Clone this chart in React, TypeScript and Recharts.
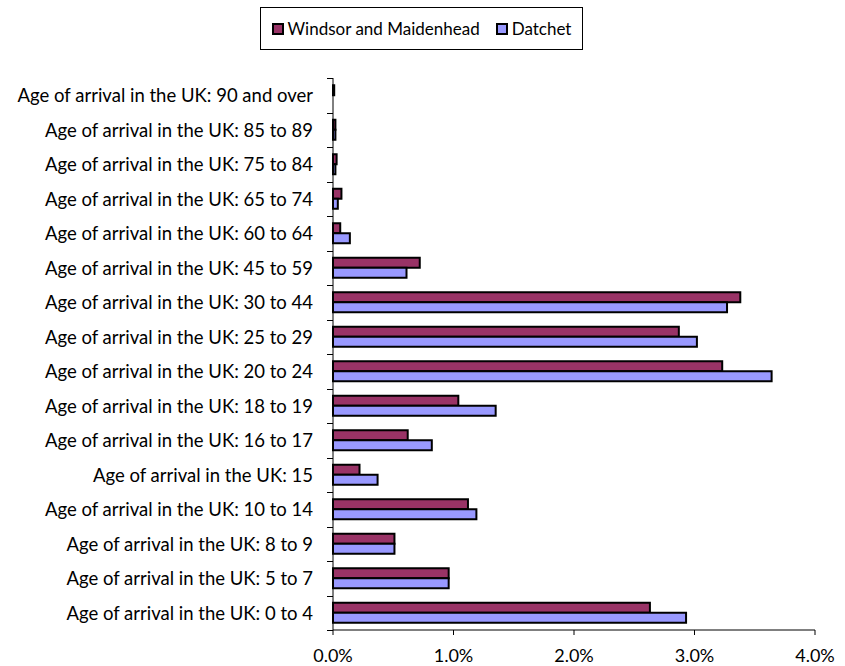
import { BarChart, Bar, XAxis, YAxis } from "recharts";

const ageBands = [
  "0 to 4",
  "5 to 7",
  "8 to 9",
  "10 to 14",
  "15",
  "16 to 17",
  "18 to 19",
  "20 to 24",
  "25 to 29",
  "30 to 44",
  "45 to 59",
  "60 to 64",
  "65 to 74",
  "75 to 84",
  "85 to 89",
  "90 and over",
];

// share of residents, in percent
const windsorShare = [2.63, 0.96, 0.51, 1.12, 0.22, 0.62, 1.04, 3.23, 2.87, 3.38, 0.72, 0.06, 0.07, 0.03, 0.02, 0.01];
const datchetShare = [2.93, 0.96, 0.51, 1.19, 0.37, 0.82, 1.35, 3.64, 3.02, 3.27, 0.61, 0.14, 0.04, 0.02, 0.02, 0.0];

const xTicks = [0, 1, 2, 3, 4];

const WIDTH = 845;
const HEIGHT = 666;
const TOP = 78;
const BOTTOM_AXIS = 36;
const Y_AXIS_W = 333;
const RIGHT = 30;
const FONT = "Lato, 'Open Sans', sans-serif";

const series = [
  { key: "windsor", name: "Windsor and Maidenhead", color: "#993366" },
  { key: "datchet", name: "Datchet", color: "#9999FF" },
];

// top row first so the oldest band sits at the top of the chart
const rows = ageBands
  .map((band, i) => ({
    label: `Age of arrival in the UK: ${band}`,
    windsor: windsorShare[i],
    datchet: datchetShare[i],
  }))
  .reverse();

const bandSize = (HEIGHT - TOP - BOTTOM_AXIS) / rows.length;
const crisp = (v: number) => Math.round(v) + 0.5;

// category label plus tick marks on the band boundaries
function CategoryTick(props: any) {
  const { y, payload } = props;
  const half = bandSize / 2;
  const ax = Y_AXIS_W;
  return (
    <g>
      <line x1={ax - 6} x2={ax} y1={crisp(y - half)} y2={crisp(y - half)} stroke="#000" strokeWidth={1} />
      <line x1={ax - 6} x2={ax} y1={crisp(y + half)} y2={crisp(y + half)} stroke="#000" strokeWidth={1} />
      <text
        x={ax - 20}
        y={y}
        textAnchor="end"
        dominantBaseline="central"
        fontFamily={FONT}
        fontSize={18.5}
        fill="#000"
      >
        {payload.value}
      </text>
    </g>
  );
}

function PercentTick(props: any) {
  const { x, payload } = props;
  return (
    <text
      x={x}
      y={HEIGHT - 4}
      textAnchor="middle"
      fontFamily={FONT}
      fontSize={18}
      fill="#000"
    >
      {`${payload.value.toFixed(1)}%`}
    </text>
  );
}

function LegendBox() {
  return (
    <div
      style={{
        position: "absolute",
        left: 260,
        top: 7,
        boxSizing: "border-box",
        width: 323,
        height: 43,
        border: "1px solid #000",
        display: "flex",
        alignItems: "center",
        justifyContent: "center",
        gap: 16,
        fontFamily: FONT,
        fontSize: 17,
        background: "#fff",
      }}
    >
      {series.map((s) => (
        <span key={s.key} style={{ display: "flex", alignItems: "center" }}>
          <span
            style={{
              display: "inline-block",
              boxSizing: "border-box",
              width: 12,
              height: 12,
              background: s.color,
              border: "2px solid #000",
              marginRight: 4,
            }}
          />
          {s.name}
        </span>
      ))}
    </div>
  );
}

export default function App() {
  return (
    <div
      style={{
        position: "absolute",
        top: 0,
        left: 0,
        width: WIDTH,
        height: HEIGHT,
        background: "#fff",
        overflow: "hidden",
      }}
    >
      <BarChart
        width={WIDTH}
        height={HEIGHT}
        data={rows}
        layout="vertical"
        margin={{ top: TOP, right: RIGHT, bottom: 0, left: 0 }}
        barCategoryGap="21%"
        barGap={0}
      >
        <XAxis
          type="number"
          domain={[0, 4]}
          ticks={xTicks}
          height={BOTTOM_AXIS}
          axisLine={{ stroke: "#000" }}
          tickLine={{ stroke: "#000" }}
          tickSize={5}
          tick={<PercentTick />}
          interval={0}
        />
        <YAxis
          type="category"
          dataKey="label"
          width={Y_AXIS_W}
          axisLine={{ stroke: "#000" }}
          tickLine={false}
          tick={<CategoryTick />}
          interval={0}
        />
        {series.map((s) => (
          <Bar
            key={s.key}
            dataKey={s.key}
            name={s.name}
            fill={s.color}
            stroke="#000"
            strokeWidth={2}
            isAnimationActive={false}
          />
        ))}
      </BarChart>
      <LegendBox />
    </div>
  );
}
